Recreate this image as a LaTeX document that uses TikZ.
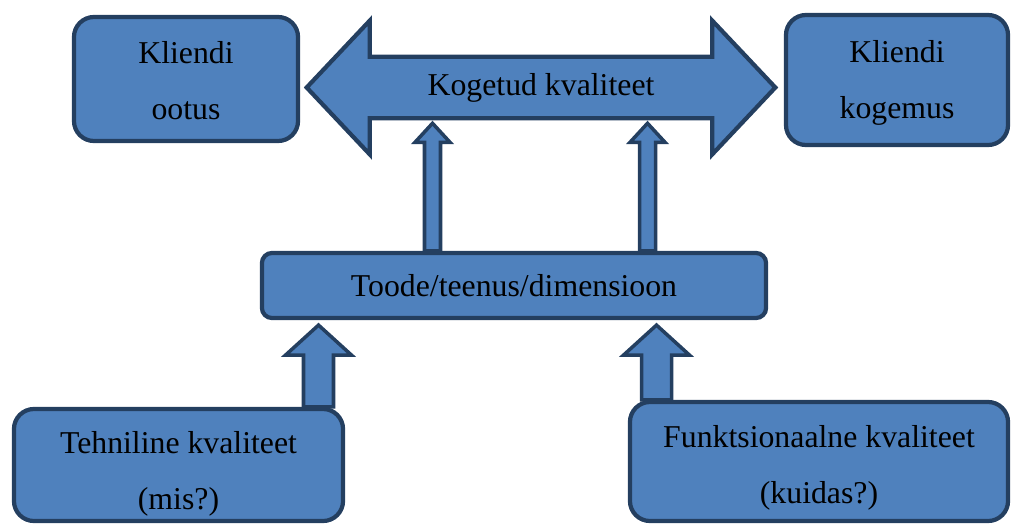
\documentclass[tikz,border=0pt]{standalone}
\usepackage{fontspec}
\setmainfont{Liberation Serif}
\usetikzlibrary{calc,backgrounds}
\definecolor{boxblue}{HTML}{4F81BD}
\definecolor{edge}{HTML}{243F60}
% block arrow pointing up: x, from node, to node, shaft half width, head half width, head length
\newcommand{\blockup}[6]{%
  \coordinate (bt) at (#1,0 |- #2.north);
  \coordinate (tp) at ($(#1,0 |- #3.south)+(0,5)$);
  \draw[blk] ($(bt)+(-#4,0)$) -- ($(tp)+(-#4,#6)$) -- ($(tp)+(-#5,#6)$) -- (tp)
    -- ($(tp)+(#5,#6)$) -- ($(tp)+(#4,#6)$) -- ($(bt)+(#4,0)$) -- cycle;}

\begin{document}
\begin{tikzpicture}[x=0.025cm,y=-0.025cm,font=\fontsize{22.6}{40}\selectfont,
  b/.style={draw=edge,fill=boxblue,line width=3pt,rounded corners=0.5cm,align=center,inner sep=0pt},
  blk/.style={draw=edge,fill=boxblue,line width=2.5pt,line join=miter}]
\useasboundingbox (0,0) rectangle (1011,526);
\node[b,minimum width=5.6cm,minimum height=3.1cm,text height=58.5pt] (ootus) at (186,79) {Kliendi\\ootus};
\node[b,minimum width=5.55cm,minimum height=3.25cm,text height=60pt] (kogemus) at (897,80) {Kliendi\\kogemus};
\node[b,rounded corners=0.25cm,minimum width=12.6cm,minimum height=1.625cm] (toode) at (514,285.5) {Toode/teenus/dimensioon};
\node[b,minimum width=8.225cm,minimum height=2.8cm,text height=68pt] (tehn) at (178.5,465) {Tehniline kvaliteet\\(mis?)};
\node[b,minimum width=9.45cm,minimum height=2.975cm,text height=65pt] (funk) at (819,461.5) {Funktsionaalne kvaliteet\\(kuidas?)};
\node[minimum width=8.55cm,minimum height=1.525cm,inner sep=0pt] (kog) at (541,87.5) {Kogetud kvaliteet};
\begin{scope}[on background layer]
\draw[blk,line width=3pt] (kog.north west) -- (kog.north east) -- ($(kog.north east)+(0,-36)$)
  -- ($(kog.east)+(63,0)$) -- ($(kog.south east)+(0,36)$) -- (kog.south east) -- (kog.south west)
  -- ($(kog.south west)+(0,36)$) -- ($(kog.west)+(-63,0)$) -- ($(kog.north west)+(0,-36)$) -- cycle;
\end{scope}
\blockup{432.5}{toode}{kog}{8}{17.5}{19}
\blockup{647.5}{toode}{kog}{8}{17.5}{19}
\blockup{318.5}{tehn}{toode}{15}{33}{30}
\blockup{656.5}{funk}{toode}{15}{33}{30}
\end{tikzpicture}
\end{document}
